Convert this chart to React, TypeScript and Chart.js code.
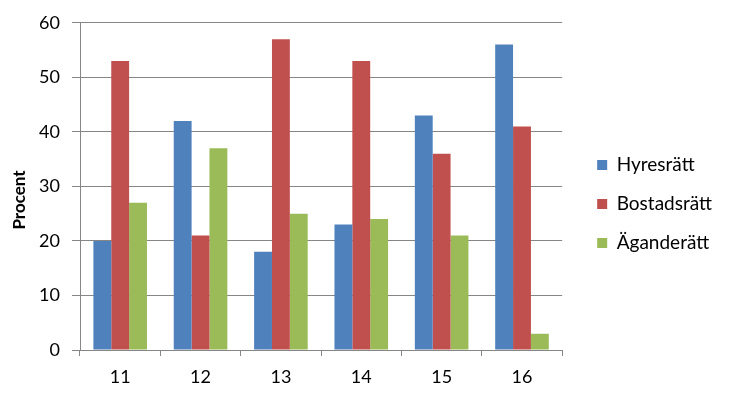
import React, { useEffect, useRef } from "react";
import { Chart, registerables } from "chart.js";

Chart.register(...registerables);

const categories = ["11", "12", "13", "14", "15", "16"];
const seriesNames = ["Hyresrätt", "Bostadsrätt", "Äganderätt"];
const hyresratt = [20, 42, 18, 23, 43, 56];
const bostadsratt = [53, 21, 57, 53, 36, 41];
const aganderatt = [27, 37, 25, 24, 21, 3];
const seriesColors = ["#4F81BD", "#C0504D", "#9BBB59"];
const yTitle = "Procent";

const FONT = "Lato, 'Open Sans', sans-serif";
const GRID = "#868686";

const yTitlePlugin = {
  id: "yTitlePlugin",
  afterDraw(chart: any) {
    const ctx = chart.ctx;
    ctx.save();
    ctx.translate(20, 200);
    ctx.rotate(-Math.PI / 2);
    ctx.font = `bold 17px ${FONT}`;
    ctx.fillStyle = "#000";
    ctx.textAlign = "center";
    ctx.textBaseline = "middle";
    ctx.fillText(yTitle, 0, 0);
    ctx.restore();
  },
};

export default function App() {
  const ref = useRef<HTMLCanvasElement>(null);
  useEffect(() => {
    if (!ref.current) return;
    const data = [hyresratt, bostadsratt, aganderatt];
    const chart = new Chart(ref.current, {
      type: "bar",
      data: {
        labels: categories,
        datasets: seriesNames.map((n, i) => ({
          label: n,
          data: data[i],
          backgroundColor: seriesColors[i],
          borderWidth: 0,
          categoryPercentage: 0.667,
          barPercentage: 1,
          yAxisID: "y",
        })),
      },
      options: {
        responsive: false,
        animation: false,
        layout: { padding: { left: 6, top: 12, right: 8, bottom: 0 } },
        plugins: {
          tooltip: { enabled: false },
          legend: {
            position: "right",
            maxWidth: 220,
            labels: {
              boxWidth: 10,
              boxHeight: 10,
              padding: 20,
              color: "#000",
              font: { family: FONT, size: 19 },
            },
          },
        },
        scales: {
          x: {
            grid: {
              display: true,
              drawOnChartArea: false,
              drawTicks: true,
              tickLength: 6,
              color: GRID,
            },
            border: { display: true, color: GRID },
            ticks: {
              color: "#000",
              font: { family: FONT, size: 18 },
              padding: 10,
            },
            afterFit: (s: any) => {
              s.height = 46;
            },
          },
          y: {
            min: 0,
            max: 60,
            ticks: {
              stepSize: 10,
              color: "#000",
              font: { family: FONT, size: 18 },
              padding: 12,
            },
            grid: { color: GRID, tickLength: 8, drawTicks: true },
            border: { display: true, color: GRID },
            afterFit: (s: any) => {
              s.width = 74;
            },
          },
          y2: {
            position: "right",
            display: true,
            grid: { display: false, drawTicks: false },
            border: { display: false },
            ticks: { display: false },
            afterFit: (s: any) => {
              s.width = 15;
            },
          },
        },
      },
      plugins: [yTitlePlugin],
    });
    return () => chart.destroy();
  }, []);
  return (
    <div style={{ position: "fixed", left: 0, top: 0, width: 730, height: 396, background: "#fff" }}>
      <canvas ref={ref} width={730} height={396} />
    </div>
  );
}
